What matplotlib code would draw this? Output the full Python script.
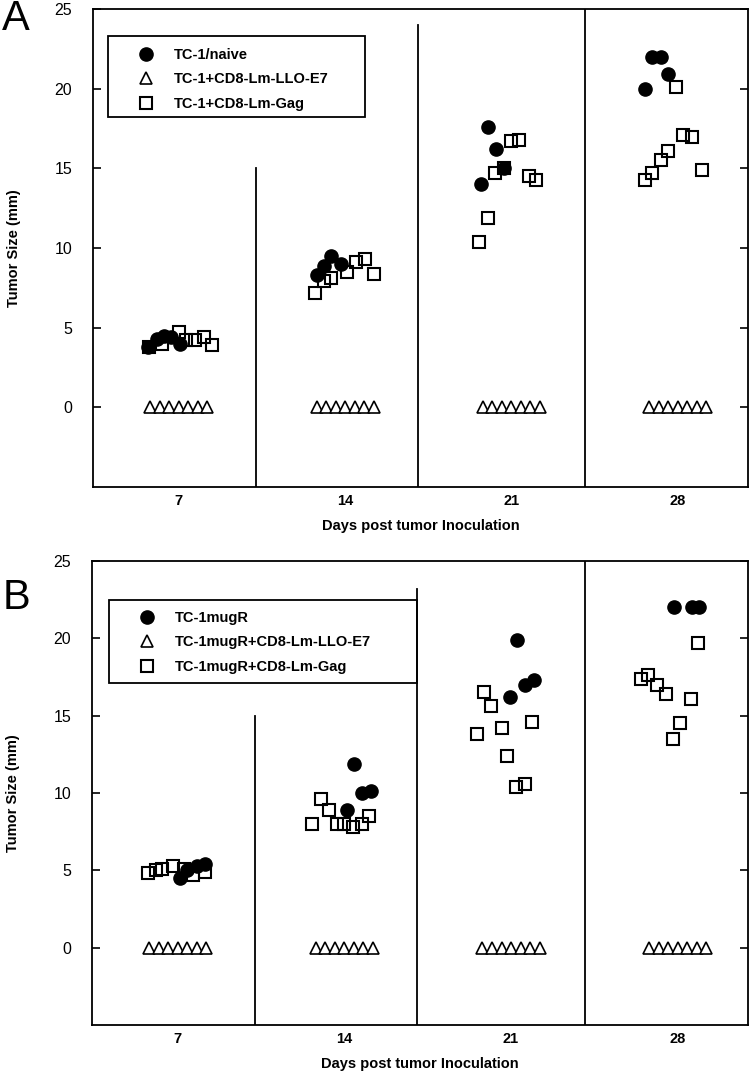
import numpy as np
import matplotlib.pyplot as plt
from matplotlib.patches import Rectangle

plt.rcParams['font.family'] = ['Liberation Sans', 'DejaVu Sans']

# ==================================================
# DADOS (dias com deslocamento horizontal, tamanho do tumor em mm)
# ==================================================
DIAS = [7, 14, 21, 28]

# Painel A
a_naive_x = [5.7, 6.1, 6.4, 6.7, 7.05,
             12.8, 13.1, 13.4, 13.85,
             19.7, 20.0, 20.35, 20.7,
             26.6, 26.9, 27.3, 27.6]
a_naive_y = [3.8, 4.3, 4.5, 4.4, 4.0,
             8.3, 8.9, 9.5, 9.0,
             14.0, 17.6, 16.2, 15.0,
             20.0, 22.0, 22.0, 20.9]
a_gag_x = [5.75, 6.3, 7.0, 7.3, 7.7, 8.05, 8.4,
           12.75, 13.1, 13.4, 14.1, 14.45, 14.85, 15.2,
           19.65, 20.0, 20.3, 20.7, 21.0, 21.3, 21.75, 22.05,
           26.6, 26.9, 27.3, 27.6, 27.9, 28.2, 28.6, 29.0]
a_gag_y = [3.8, 4.0, 4.7, 4.2, 4.2, 4.4, 3.9,
           7.2, 7.9, 8.1, 8.5, 9.1, 9.3, 8.4,
           10.4, 11.9, 14.7, 15.0, 16.7, 16.8, 14.5, 14.3,
           14.3, 14.7, 15.5, 16.1, 20.1, 17.1, 17.0, 14.9]

# Painel B
b_naive_x = [7.1, 7.4, 7.8, 8.15,
             14.1, 14.4, 14.75, 15.1,
             20.95, 21.25, 21.6, 21.95,
             27.85, 28.6, 28.9]
b_naive_y = [4.5, 5.0, 5.3, 5.4,
             8.9, 11.9, 10.0, 10.1,
             16.2, 19.9, 17.0, 17.3,
             22.0, 22.0, 22.0]
b_gag_x = [5.75, 6.1, 6.35, 6.8, 7.25, 7.65, 8.15,
           12.65, 13.0, 13.35, 13.7, 14.0, 14.35, 14.75, 15.05,
           19.55, 19.85, 20.15, 20.6, 20.85, 21.2, 21.6, 21.9,
           26.45, 26.75, 27.15, 27.5, 27.8, 28.1, 28.55, 28.85]
b_gag_y = [4.8, 5.0, 5.1, 5.3, 5.1, 4.7, 4.9,
           8.0, 9.6, 8.9, 8.0, 8.0, 7.8, 8.0, 8.5,
           13.8, 16.5, 15.6, 14.2, 12.4, 10.4, 10.6, 14.6,
           17.4, 17.6, 17.0, 16.4, 13.5, 14.5, 16.05, 19.7]

# LLO-E7: todos os tumores regrediram (0 mm), mesmas posicoes nos dois paineis
llo_x = [5.8, 6.2, 6.6, 7.0, 7.4, 7.8, 8.2,
         12.8, 13.2, 13.6, 14.0, 14.4, 14.8, 15.2,
         19.8, 20.2, 20.6, 21.0, 21.4, 21.8, 22.2,
         26.8, 27.2, 27.6, 28.0, 28.4, 28.8, 29.2]
llo_y = [0] * len(llo_x)

labels_a = ['TC-1/naive', 'TC-1+CD8-Lm-LLO-E7', 'TC-1+CD8-Lm-Gag']
labels_b = ['TC-1mugR', 'TC-1mugR+CD8-Lm-LLO-E7', 'TC-1mugR+CD8-Lm-Gag']

# linhas verticais separando os dias: (posicao, topo)
sep_a = [(10.25, 15), (17.05, 24), (24.1, 25)]
sep_b = [(10.25, 15), (17.05, 23.2), (24.1, 25)]


def painel(ax, nx, ny, gx, gy, labels, seps, box):
    ax.plot(nx, ny, 'o', ms=9.5, mfc='black', mec='black', ls='none',
            label=labels[0], zorder=3)
    ax.plot(llo_x, llo_y, '^', ms=8.5, mfc='white', mec='black', mew=1.2,
            ls='none', label=labels[1], zorder=2)
    ax.plot(gx, gy, 's', ms=9, mfc='none', mec='black', mew=1.5,
            ls='none', label=labels[2], zorder=4)

    for xs, top in seps:
        ax.plot([xs, xs], [-5, top], color='black', lw=1.3)

    ax.set_xlim(3.4, 30.95)
    ax.set_ylim(-5, 25)
    ax.set_xticks(DIAS)
    ax.set_xticklabels([str(d) for d in DIAS], fontweight='bold', fontsize=10.5)
    ax.set_yticks([0, 5, 10, 15, 20, 25])
    ax.tick_params(axis='y', direction='in', length=6, width=1.2,
                   right=True, labelsize=11.5, pad=15)
    ax.tick_params(axis='x', direction='in', length=0, width=1.2, pad=5)
    for s in ax.spines.values():
        s.set_linewidth(1.3)
    ax.set_ylabel('Tumor Size (mm)', fontweight='bold', fontsize=10.5, labelpad=24)
    ax.set_xlabel('Days post tumor Inoculation', fontweight='bold', fontsize=10.5,
                  labelpad=8)

    # caixa da legenda
    ax.add_patch(Rectangle((box[0], box[1]), box[2], box[3], transform=ax.transAxes,
                           fill=False, ec='black', lw=1.3, zorder=5))
    leg = ax.legend(loc='upper left', bbox_to_anchor=(box[0] + 0.036, box[1] + box[3] - 0.012),
                    frameon=False, prop={'weight': 'bold', 'size': 10.5},
                    handlelength=1.2, handletextpad=1.3, labelspacing=0.72,
                    borderaxespad=0)
    return leg


fig = plt.figure(figsize=(7.52, 10.77), dpi=100)
ax_a = fig.add_axes([0.1237, 0.5478, 0.8710, 0.4438])
ax_b = fig.add_axes([0.1223, 0.0483, 0.8723, 0.4308])

painel(ax_a, a_naive_x, a_naive_y, a_gag_x, a_gag_y, labels_a, sep_a,
       (0.023, 0.775, 0.393, 0.168))
painel(ax_b, b_naive_x, b_naive_y, b_gag_x, b_gag_y, labels_b, sep_b,
       (0.026, 0.738, 0.469, 0.179))

fig.text(0.003, 0.982, 'A', fontsize=30, va='center', ha='left')
fig.text(0.003, 0.445, 'B', fontsize=30, va='center', ha='left')

fig.savefig('out.png', dpi=100)
